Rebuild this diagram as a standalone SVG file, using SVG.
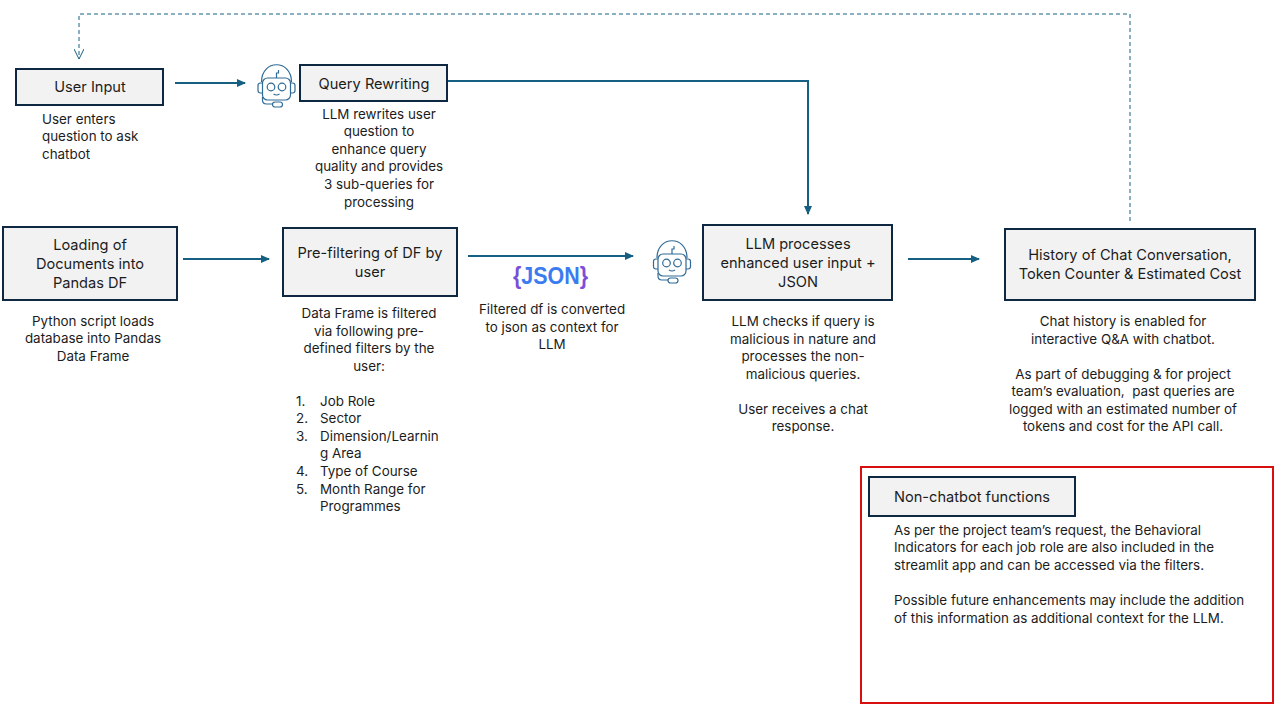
<svg xmlns="http://www.w3.org/2000/svg" width="1280" height="720" viewBox="0 0 1280 720">
<style>
text{font-family:Inter,"Open Sans","Liberation Sans",sans-serif;fill:#1c1c1c}
.t{font-size:14.600px;text-anchor:middle}
.s{font-size:13.400px;text-anchor:middle}
.l{font-size:13.400px}
.box{fill:#f2f2f2;stroke:#0e2841;stroke-width:2}
.c{fill:none;stroke:#156082;stroke-width:2}
.d{fill:none;stroke:#156082;stroke-width:1;stroke-dasharray:4 3}
.bot{fill:none;stroke:#2f6a96;stroke-width:1.200}
.j{font-family:"Liberation Sans",sans-serif;font-size:24px;font-weight:700;fill:#3b7bf0}
.jb{fill:#7a4fd8}
</style>
<defs>
<marker id="a" markerWidth="10" markerHeight="8" refX="8" refY="4" orient="auto" markerUnits="userSpaceOnUse"><path d="M0 0L9 4L0 8Z" fill="#156082"/></marker>
<marker id="o" markerWidth="12" markerHeight="10" refX="10" refY="5" orient="auto" markerUnits="userSpaceOnUse"><path d="M0 0L10 5L0 10" fill="none" stroke="#156082"/></marker>
<g id="botIcon">
<rect class="bot" x="-14" y="-8" width="28" height="22" rx="5"/>
<path class="bot" d="M-15-4C-15-27 15-27 15-4M-14-3h-2q-2.500 0-2.500 2.500v5q0 2.500 2.500 2.500h2M14-3h2q2.500 0 2.500 2.500v5q0 2.500-2.500 2.500h-2"/>
<circle class="bot" cx="-5.500" cy="1" r="3.800"/><circle class="bot" cx="5.500" cy="1" r="3.800"/>
<path class="bot" d="M-3 8q3 2 6 0M0-8v-5h2v-3M-14 11v3q0 4 4 4h6"/>
<rect class="bot" x="-4" y="16" width="10" height="5" rx="2.500"/>
</g>
</defs>
<g id="connectors">
<path class="c" marker-end="url(#a)" d="M175 83H245"/>
<path class="c" marker-end="url(#a)" d="M447 81H808V214"/>
<path class="c" marker-end="url(#a)" d="M183 259H269"/>
<path class="c" marker-end="url(#a)" d="M468 256H633"/>
<path class="c" marker-end="url(#a)" d="M908 259H979"/>
<path class="d" marker-end="url(#o)" d="M1130 221V14H79V59"/>
</g>
<g id="user-input"><rect class="box" x="16" y="69" width="147" height="36"/><text class="t" x="90" y="92">User Input</text>
<text class="l"><tspan x="42" y="124">User enters</tspan><tspan x="42" y="141">question to ask</tspan><tspan x="42" y="159">chatbot</tspan></text></g>
<g id="bot-1"><use href="#botIcon" x="276.500" y="86"/></g>
<g id="query-rewriting"><rect class="box" x="300" y="65" width="147" height="36"/><text class="t" x="374" y="89">Query Rewriting</text>
<text class="s"><tspan x="379" y="119">LLM rewrites user</tspan><tspan x="379" y="136">question to</tspan><tspan x="379" y="154">enhance query</tspan><tspan x="379" y="171">quality and provides</tspan><tspan x="379" y="189">3 sub-queries for</tspan><tspan x="379" y="207">processing</tspan></text></g>
<g id="loading"><rect class="box" x="3" y="227" width="174" height="73"/><text class="t"><tspan x="90" y="250">Loading of</tspan><tspan x="90" y="269">Documents into</tspan><tspan x="90" y="288">Pandas DF</tspan></text>
<text class="s"><tspan x="93" y="326">Python script loads</tspan><tspan x="93" y="343">database into Pandas</tspan><tspan x="93" y="361">Data Frame</tspan></text></g>
<g id="prefilter"><rect class="box" x="283" y="228" width="174" height="68"/><text class="t"><tspan x="370" y="258">Pre-filtering of DF by</tspan><tspan x="370" y="277">user</tspan></text>
<text class="s"><tspan x="369" y="318">Data Frame is filtered</tspan><tspan x="369" y="336">via following pre-</tspan><tspan x="369" y="353">defined filters by the</tspan><tspan x="369" y="371">user:</tspan></text>
<text class="l"><tspan x="296" y="406">1.</tspan><tspan x="320" y="406">Job Role</tspan><tspan x="296" y="423">2.</tspan><tspan x="320" y="423">Sector</tspan><tspan x="296" y="441">3.</tspan><tspan x="320" y="441">Dimension/Learnin</tspan><tspan x="320" y="458">g Area</tspan><tspan x="296" y="476">4.</tspan><tspan x="320" y="476">Type of Course</tspan><tspan x="296" y="494">5.</tspan><tspan x="320" y="494">Month Range for</tspan><tspan x="320" y="511">Programmes</tspan></text></g>
<g id="json"><text class="j" transform="translate(513 284) scale(.893 1)"><tspan class="jb">{</tspan>JSON<tspan class="jb">}</tspan></text>
<text class="s"><tspan x="552" y="314">Filtered df is converted</tspan><tspan x="552" y="332">to json as context for</tspan><tspan x="552" y="349">LLM</tspan></text></g>
<g id="bot-2"><use href="#botIcon" x="672" y="262"/></g>
<g id="llm"><rect class="box" x="703" y="225" width="189" height="75"/><text class="t"><tspan x="798" y="249">LLM processes</tspan><tspan x="798" y="268">enhanced user input +</tspan><tspan x="798" y="287">JSON</tspan></text>
<text class="s"><tspan x="803" y="326">LLM checks if query is</tspan><tspan x="803" y="344">malicious in nature and</tspan><tspan x="803" y="361">processes the non-</tspan><tspan x="803" y="379">malicious queries.</tspan><tspan x="803" y="414">User receives a chat</tspan><tspan x="803" y="431">response.</tspan></text></g>
<g id="history"><rect class="box" x="1005" y="229" width="250" height="71"/><text class="t"><tspan x="1130" y="260">History of Chat Conversation,</tspan><tspan x="1130" y="279">Token Counter &amp; Estimated Cost</tspan></text>
<text class="s"><tspan x="1123" y="326">Chat history is enabled for</tspan><tspan x="1123" y="344">interactive Q&amp;A with chatbot.</tspan><tspan x="1123" y="379">As part of debugging &amp; for project</tspan><tspan x="1123" y="396" xml:space="preserve">team’s evaluation,  past queries are</tspan><tspan x="1123" y="414">logged with an estimated number of</tspan><tspan x="1123" y="431">tokens and cost for the API call.</tspan></text></g>
<g id="non-chatbot"><rect x="861" y="467" width="412" height="236" fill="none" stroke="#d80f0f" stroke-width="2"/><rect class="box" x="869" y="477" width="206" height="39"/><text class="t" x="894" y="502" style="text-anchor:start">Non-chatbot functions</text>
<text class="l"><tspan x="894" y="535">As per the project team’s request, the Behavioral</tspan><tspan x="894" y="552">Indicators for each job role are also included in the</tspan><tspan x="894" y="570">streamlit app and can be accessed via the filters.</tspan><tspan x="894" y="605">Possible future enhancements may include the addition</tspan><tspan x="894" y="623">of this information as additional context for the LLM.</tspan></text></g>
</svg>
